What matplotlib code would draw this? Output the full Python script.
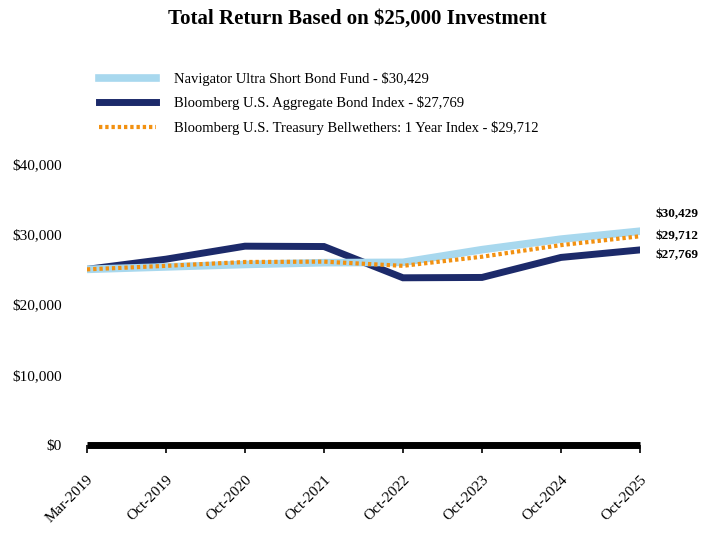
import numpy as np
import matplotlib
matplotlib.use('Agg')
import matplotlib.pyplot as plt

plt.rcParams['font.family'] = ['Liberation Serif', 'DejaVu Serif']

periods = ['Mar-2019', 'Oct-2019', 'Oct-2020', 'Oct-2021', 'Oct-2022', 'Oct-2023', 'Oct-2024', 'Oct-2025']
navigator = [25000, 25350, 25700, 25950, 26000, 27800, 29300, 30429]
agg_index = [25000, 26450, 28300, 28250, 23800, 23850, 26700, 27769]
treasury = [25000, 25500, 26050, 26100, 25500, 26800, 28450, 29712]

names = ['Navigator Ultra Short Bond Fund - $30,429',
         'Bloomberg U.S. Aggregate Bond Index - $27,769',
         'Bloomberg U.S. Treasury Bellwethers: 1 Year Index - $29,712']
end_labels = ['$30,429', '$27,769', '$29,712']

c_light = '#A8D8EE'
c_navy = '#1C2A6A'
c_orange = '#F29111'

fig = plt.figure(figsize=(7.01, 5.34), dpi=100)
ax = fig.add_axes([0.124, 0.1667, 0.789, 0.5262])
x = np.arange(len(periods))

l2, = ax.plot(x, agg_index, color=c_navy, lw=5, solid_joinstyle='miter', zorder=3)
l1, = ax.plot(x, navigator, color=c_light, lw=5.5, zorder=4)
l3, = ax.plot(x, treasury, color=c_orange, lw=3, linestyle=(0, (0.8, 0.7)), zorder=5)

ax.set_xlim(0, 7)
ax.set_ylim(0, 40000)
ax.set_xticks(x)
ax.set_xticklabels(periods, rotation=45, ha='right', rotation_mode='anchor', fontsize=11)
ax.set_yticks([0, 10000, 20000, 30000, 40000])
ax.set_yticklabels(['$0', '$10,000', '$20,000', '$30,000', '$40,000'], fontsize=11)
for s in ['top', 'right', 'left']:
    ax.spines[s].set_visible(False)
ax.spines['bottom'].set_linewidth(5)
ax.spines['bottom'].set_capstyle('butt')
ax.tick_params(axis='y', length=0, pad=18)
ax.tick_params(axis='x', length=6, width=1.2, pad=14)

# values at the right end
offs = [12, -4, 0]
for lab, ser, dy in zip(end_labels, [navigator, agg_index, treasury], offs):
    ax.annotate(lab, (7, ser[-1]), xytext=(11, dy), textcoords='offset points',
                fontsize=9.5, fontweight='bold', va='center', ha='left', annotation_clip=False)

fig.legend([l1, l2, l3], names, loc='upper left', bbox_to_anchor=(0.122, 0.89),
           frameon=False, fontsize=10.5, handlelength=3.9, handletextpad=1.3, labelspacing=0.72)

fig.text(0.51, 0.965, 'Total Return Based on $25,000 Investment', ha='center', va='center',
         fontsize=15, fontweight='bold')

fig.savefig('out.png', dpi=100)
